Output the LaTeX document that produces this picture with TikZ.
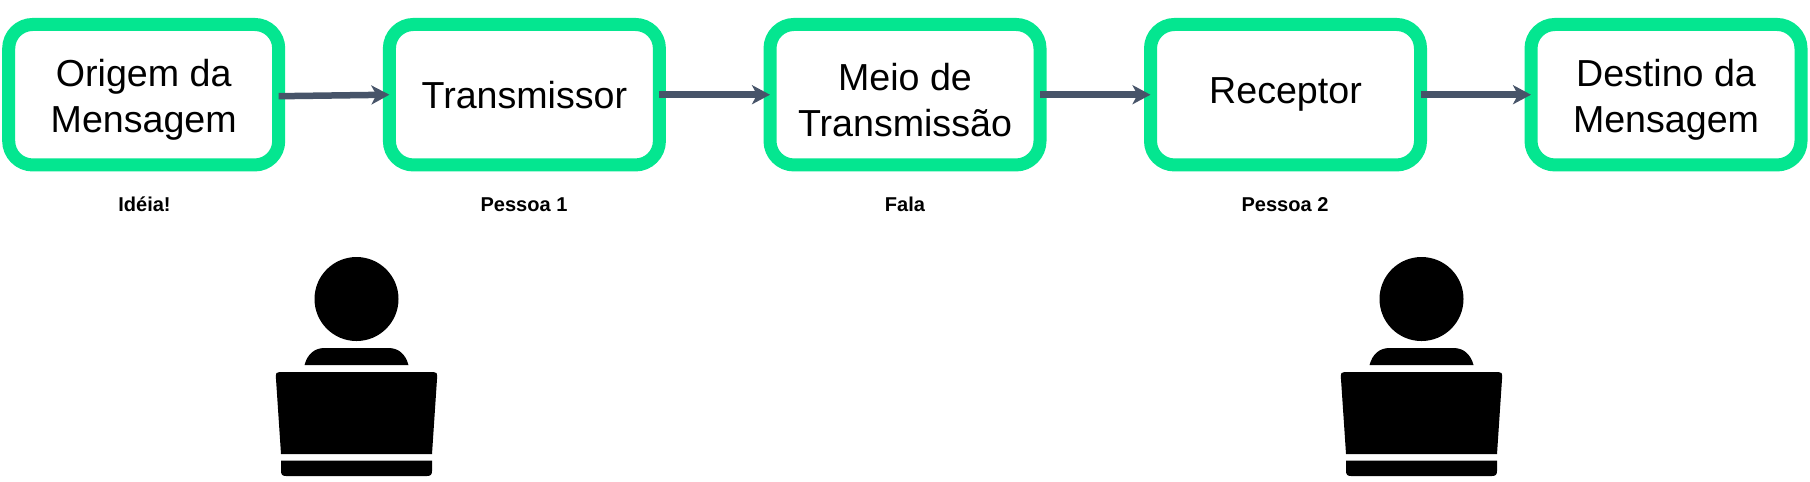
\documentclass[tikz,border=0pt]{standalone}
\usepackage{fontspec}
\setmainfont{Liberation Sans}
\usetikzlibrary{positioning,arrows.meta}
\definecolor{boxgreen}{RGB}{4,230,144}
\definecolor{arrowslate}{RGB}{71,84,105}
\newcommand{\firstline}{\rule{0pt}{10.6pt}}
\tikzset{
  stagebox/.style={draw=boxgreen,line width=0.13cm,rounded corners=0.24cm,fill=white,
    minimum width=2.70cm,minimum height=1.405cm,outer sep=0pt,inner sep=0pt,
    align=center,font=\fontsize{10.7}{13}\selectfont},
  stagelabel/.style={anchor=base,inner sep=0pt,font=\fontsize{5.7}{7}\selectfont\bfseries},
  flow/.style={arrowslate,line width=0.065cm,-{Stealth[length=0.18cm,width=0.19cm,inset=0.05cm]}},
  person/.pic={
    \fill (0,0) circle (0.42);
    \fill (-0.52,-0.66) .. controls (-0.49,-0.55) and (-0.42,-0.49) .. (-0.32,-0.49)
      -- (0.32,-0.49) .. controls (0.42,-0.49) and (0.49,-0.55) .. (0.52,-0.66) -- cycle;
    \fill (-0.755,-1.55) -- (-0.807,-0.77) .. controls (-0.81,-0.745) and (-0.80,-0.73) .. (-0.77,-0.73)
      -- (0.77,-0.73) .. controls (0.80,-0.73) and (0.81,-0.745) .. (0.807,-0.77) -- (0.755,-1.55) -- cycle;
    \fill (-0.755,-1.615) -- (0.755,-1.615) -- (0.755,-1.72) .. controls (0.755,-1.755) and (0.74,-1.77) .. (0.705,-1.77)
      -- (-0.705,-1.77) .. controls (-0.74,-1.77) and (-0.755,-1.755) .. (-0.755,-1.72) -- cycle;
  }
}
\begin{document}
\begin{tikzpicture}
  \useasboundingbox (0,0) rectangle (18.1,-4.81);

  \node[stagebox] (origem) at (1.437,-0.947) {\firstline Origem da\\Mensagem};
  \node[stagebox] (transmissor) at (5.244,-0.947) {Transmissor};
  \node[stagebox] (meio) at (9.05,-0.947) {\firstline Meio de\\Transmissão};
  \node[stagebox] (receptor) at (12.855,-0.947) {Receptor};
  \node[stagebox] (destino) at (16.66,-0.947) {\firstline Destino da\\Mensagem};

  \node[stagelabel] (ideia) at (1.445,-2.11) {Idéia!};
  \node[stagelabel] (pessoaum) at (5.24,-2.11) {Pessoa 1};
  \node[stagelabel] (fala) at (9.05,-2.11) {Fala};
  \node[stagelabel] (pessoadois) at (12.85,-2.11) {Pessoa 2};

  \draw[flow] ([yshift=-0.015cm]origem.east) -- (transmissor.west);
  \draw[flow] (transmissor.east) -- (meio.west);
  \draw[flow] (meio.east) -- (receptor.west);
  \draw[flow] (receptor.east) -- (destino.west);

  \pic at (3.565,-2.99) {person};
  \pic at (14.215,-2.99) {person};
\end{tikzpicture}
\end{document}
